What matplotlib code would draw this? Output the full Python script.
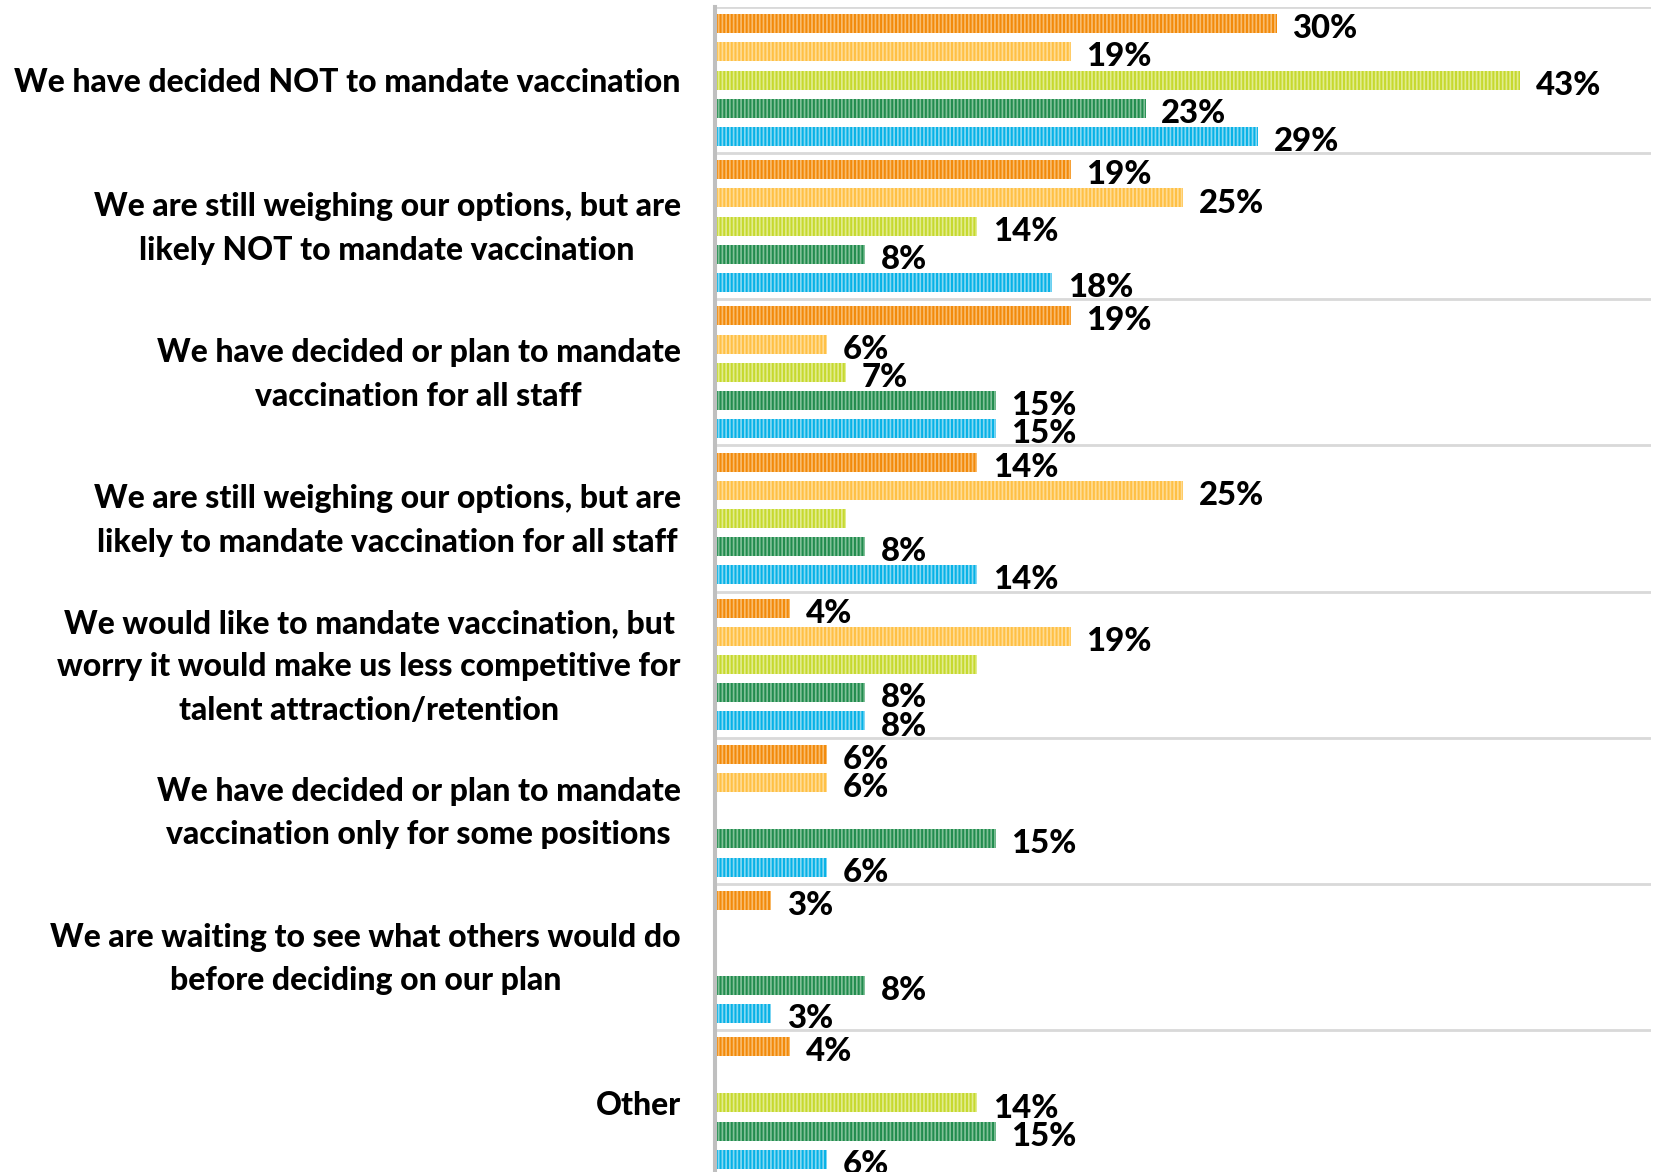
import numpy as np
import matplotlib.pyplot as plt

plt.rcParams['font.family'] = ['Lato', 'DejaVu Sans']
plt.rcParams['hatch.linewidth'] = 1.1

questions = [
    "We have decided NOT to mandate vaccination",
    "We are still weighing our options, but are\nlikely NOT to mandate vaccination",
    "We have decided or plan to mandate\nvaccination for all staff",
    "We are still weighing our options, but are\nlikely to mandate vaccination for all staff",
    "We would like to mandate vaccination, but\nworry it would make us less competitive for\ntalent attraction/retention",
    "We have decided or plan to mandate\nvaccination only for some positions",
    "We are waiting to see what others would do\nbefore deciding on our plan",
    "Other",
]

# five response groups, drawn top to bottom inside each question
orange = [30, 19, 19, 14, 4, 6, 3, 4]
light_orange = [19, 25, 6, 25, 19, 6, 0, 0]
lime = [43, 14, 7, 7, 14, 0, 0, 14]
green = [23, 8, 15, 8, 8, 15, 8, 15]
blue = [29, 18, 15, 14, 8, 6, 3, 6]

# lime bars in rows 4 and 5 carry no value label
lime_labelled = [True, True, True, False, False, True, True, True]

series = [orange, light_orange, lime, green, blue]
labelled = [[True] * 8, [True] * 8, lime_labelled, [True] * 8, [True] * 8]
face = ['#F28A0A', '#FFC044', '#C6D92E', '#218C4E', '#06B2E6']
stripe = ['#F9BC6E', '#FFDC94', '#E2EC8E', '#82C199', '#86D8F3']

# dpi chosen so that the hatch pitch comes out near 3.75 px
DPI = 112.5
fig = plt.figure(figsize=(1665 / DPI, 1172.4 / DPI), dpi=DPI)
ax = fig.add_axes([715 / 1665, -4 / 1172, 936 / 1665, 1168.6 / 1172])

y0 = np.arange(len(questions))
step = 0.193
for j, vals in enumerate(series):
    y = y0 + (j - 2) * step
    ax.barh(y, vals, height=0.13, color=face[j], edgecolor=stripe[j],
            linewidth=0, hatch='|||||', zorder=2)
    for yi, v, show in zip(y, vals, labelled[j]):
        if v > 0 and show:
            ax.annotate(f"{v}%", (v, yi), xytext=(10, -3), textcoords='offset points',
                        ha='left', va='center', fontsize=21, fontweight='black',
                        color='black')

ax.set_xlim(0, 50)
ax.set_ylim(len(questions) - 0.5, -0.5)

# separators between question groups
for b in np.arange(-0.5, len(questions), 1):
    ax.axhline(b, color='#D9D9D9', lw=1.8, zorder=1)

# question labels, right-aligned left of the axis, lines centred
for yi, q in zip(y0, questions):
    ax.annotate(q, (0, yi), xycoords=('axes fraction', 'data'),
                xytext=(-22, -1.1), textcoords='offset points',
                ha='right', va='center', multialignment='center',
                fontsize=20.4, fontweight='black', linespacing=1.6)

ax.set_xticks([])
ax.set_yticks([])

for s in ['top', 'right', 'bottom']:
    ax.spines[s].set_visible(False)
ax.spines['left'].set_color('#BFBFBF')
ax.spines['left'].set_linewidth(2.6)

fig.savefig('out.png', facecolor='white')
